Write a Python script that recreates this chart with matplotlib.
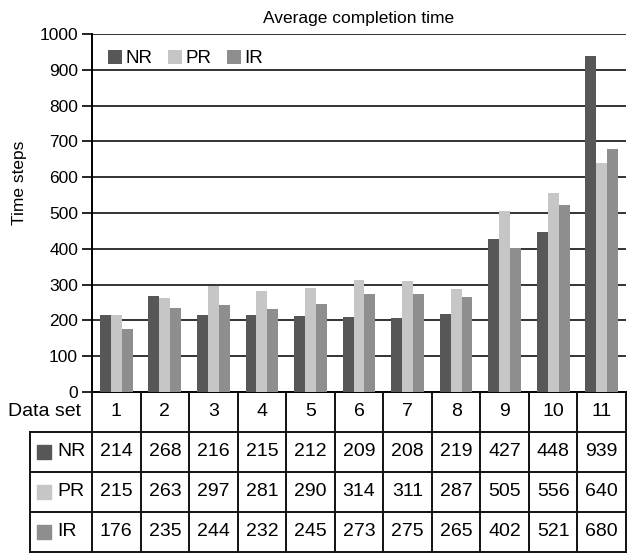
import numpy as np
import matplotlib.pyplot as plt

plt.rcParams['font.family'] = ['Liberation Sans', 'DejaVu Sans']

datasets = ['1', '2', '3', '4', '5', '6', '7', '8', '9', '10', '11']
series = ['NR', 'PR', 'IR']
nr = [214, 268, 216, 215, 212, 209, 208, 219, 427, 448, 939]
pr = [215, 263, 297, 281, 290, 314, 311, 287, 505, 556, 640]
ir = [176, 235, 244, 232, 245, 273, 275, 265, 402, 521, 680]
colors = ['#575757', '#c6c6c6', '#8e8e8e']

W, H = 627, 553
fig = plt.figure(figsize=(W / 100, H / 100), dpi=100)

x0, x1 = 92, 626
ax = fig.add_axes([x0 / W, 1 - 392 / H, (x1 - x0) / W, (392 - 34) / H])
x = np.arange(len(datasets))
bw = 0.225
for i, vals in enumerate([nr, pr, ir]):
    ax.bar(x + (i - 1) * bw, vals, bw, color=colors[i], label=series[i], zorder=3)

ax.set_xlim(-0.5, 10.5)
ax.set_ylim(0, 1000)
ax.set_yticks(range(0, 1001, 100))
ax.tick_params(axis='y', labelsize=12.5, length=7, width=1.2, direction='out', pad=3)
ax.set_xticks([])
for y in range(100, 1001, 100):
    ax.axhline(y, color='#333333', lw=1.4, zorder=1)
for s in ['top', 'right']:
    ax.spines[s].set_visible(False)
ax.spines['left'].set_linewidth(1.4)
ax.spines['bottom'].set_linewidth(1.4)

leg = ax.legend(loc='upper left', ncol=3, frameon=False, fontsize=13.5,
                handlelength=0.75, handleheight=0.75, handletextpad=0.2,
                columnspacing=0.8, bbox_to_anchor=(0.0, 1.0), borderaxespad=0.45)

ax.set_title('Average completion time', fontsize=12.5, pad=8)
fig.text(20 / W, 1 - 183 / H, 'Time steps', ha='center', va='center', rotation=90, fontsize=12.5)

# table under the chart, same x scale as the bars
left_px = 30
tx = fig.add_axes([left_px / W, 1 - 552 / H, (x1 - left_px) / W, (552 - 392) / H])
units = 11 / (x1 - x0)
xl = -0.5 - (x0 - left_px) * units
tx.set_xlim(xl, 10.5)
tx.set_ylim(4, 0)
tx.axis('off')
lc = '#111111'
for k in range(12):
    tx.plot([k - 0.5, k - 0.5], [0, 4], color=lc, lw=1.4, clip_on=False)
tx.plot([xl, xl], [1, 4], color=lc, lw=1.4, clip_on=False)
for r in [1, 2, 3, 4]:
    tx.plot([xl, 10.5], [r, r], color=lc, lw=1.4, clip_on=False)

for j, d in enumerate(datasets):
    tx.text(j, 0.5, d, ha='center', va='center', fontsize=14)
tx.text(-0.72, 0.5, 'Data set', ha='right', va='center', fontsize=14)
for i, vals in enumerate([nr, pr, ir]):
    r = i + 1.5
    tx.scatter([xl + 0.29], [r], marker='s', s=90, color=colors[i], clip_on=False)
    tx.text(xl + 0.56, r, series[i], ha='left', va='center', fontsize=14)
    for j, v in enumerate(vals):
        tx.text(j, r, str(v), ha='center', va='center', fontsize=14)

fig.savefig('out.png', dpi=100)
